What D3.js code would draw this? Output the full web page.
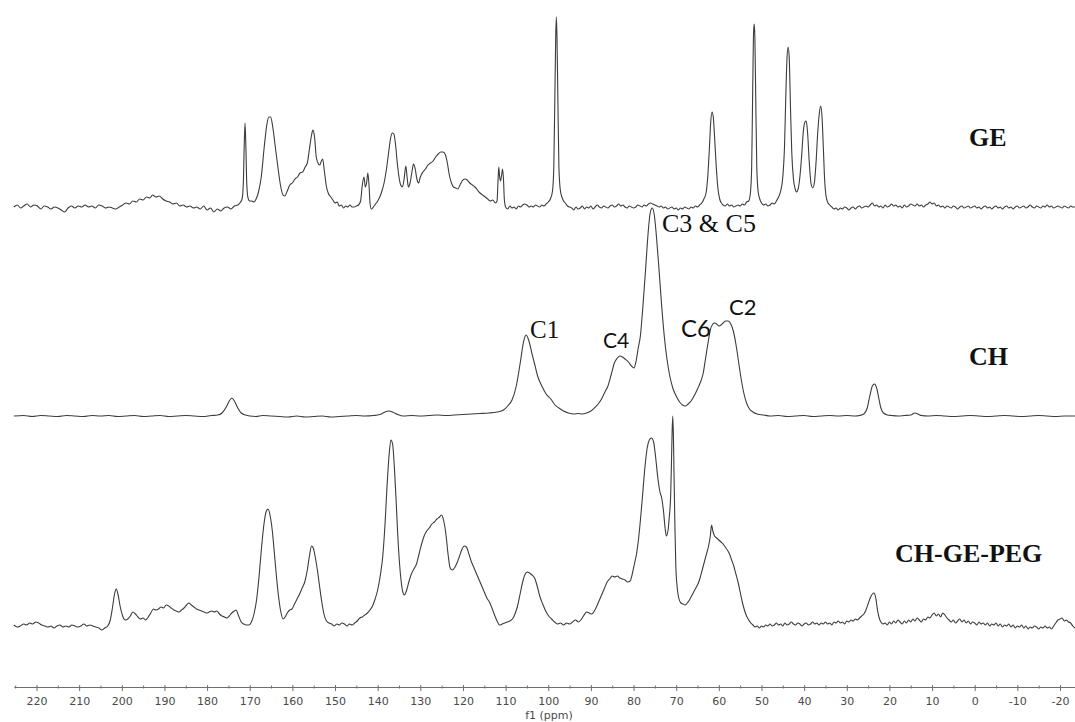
<!DOCTYPE html>
<html><head><meta charset="utf-8">
<script src="https://cdn.jsdelivr.net/npm/d3@7"></script>
<style>html,body{margin:0;padding:0;background:#fff;}svg{display:block;}</style>
</head><body>
<svg id="chart" width="1075" height="722"></svg>
<script>
// ---- data: [chemical shift (ppm), intensity (a.u.)] ----
const geSpectrum = [
[225.3,0],[224.5,2],[223.7,-1],[223,1],[222.2,3],[221.4,0],[220.6,2],[219.8,1],[219,-2],[218.2,1],[217.4,0],[216.6,-2],[215.8,0],[215,-1],[214.2,-3],[213.4,-5],[212.6,-1],[211.8,1],[211,-1],[210.2,1],[209.4,0],[208.6,2],[207.8,0],[207,1],[206.2,-1],[205.4,2],[204.6,1],[203.8,-1],[203,0],[202.2,-1],[201.4,-2],[200.6,0],[199.8,2],[199,4],[198.2,3],[197.4,6],[196.6,5],[195.8,8],[195,7],[194.2,10],[193.4,9],[192.8,12],[192,10],[191.2,11],[190.4,8],[189.6,6],[188.8,5],[188,3],[187.2,4],[186.4,1],[185.6,2],[184.8,0],[184,1],[183.2,-1],[182.4,0],[181.6,-2],[180.8,1],[180,-3],[179.2,-1],[178.4,-5],[177.6,-2],[176.8,-4],[176,-1],[175.2,0],[174.4,-2],[173.6,1],[172.8,2],[172.3,4],
[171.8,8],[171.5,24],[171.3,60],[171.1,84],[170.9,60],[170.7,24],[170.4,9],[170,6],[169.5,6],[169,5],[168.5,8],
[168,14],[167.3,30],[166.6,60],[166,82],[165.5,90],[165.1,90],[164.6,80],[164,60],[163.4,40],[162.8,22],[162.2,12],[161.8,11],[161.2,16],[160.6,22],[160,24],[159.4,28],[158.8,30],[158.2,34],[157.6,35],[157,40],[156.5,44],[156,58],[155.5,72],[155.2,77],[154.8,70],[154.4,50],[154,44],[153.6,42],[153.2,46],[152.9,48],[152.5,36],[152,20],[151.6,14],[151,10],[150.5,7],[150,4],[149.5,5],[149,1],[148.5,2],[148,-1],[147.5,1],[147,0],[146.5,2],[146,0],[145.5,0],[145,1],[144.5,2],[144,6],[143.6,22],[143.2,30],[142.9,20],[142.6,24],[142.3,34],[142,20],[141.8,4],[141.5,-2],[141,0],[140.5,3],[140,6],[139.5,10],[139,16],[138.5,24],[138,36],[137.5,52],[137,68],[136.6,74],[136.2,73],[135.8,62],[135.4,44],[135,30],[134.6,22],[134.2,20],[133.8,28],[133.4,41],[133.1,30],[132.8,20],[132.4,24],[132,34],[131.6,43],[131.2,38],[130.8,28],[130.4,24],[130,30],[129.4,35],[128.8,38],[128.2,42],[127.6,44],[127,46],[126.4,50],[125.8,53],[125.2,55],[124.7,55],[124.2,53],[123.7,45],[123.2,32],[122.7,24],[122.2,20],[121.7,19],[121.2,18],[120.7,22],[120.2,26],[119.6,28],[119,27],[118.4,24],[117.8,22],[117.2,20],[116.6,17],[116,14],[115.4,12],[114.8,10],[114.2,8],[113.6,6],[113,7],[112.4,4],[112,6],[111.8,24],[111.6,40],[111.4,30],[111.2,26],[111,30],[110.7,38],[110.5,28],[110.3,8],[110,0],
[109.5,-2],[109,1],[108.5,-1],[108,0],[107.5,-2],[107,1],[106.5,0],[106,2],[105.5,3],[105,2],[104.5,0],[104,1],[103.5,0],[103,2],[102.5,1],[102,0],[101.5,2],[101,1],[100.5,3],[100,5],[99.5,8],[99,16],[98.7,40],[98.45,110],[98.25,170],[98.1,190],[97.95,170],[97.75,110],[97.5,40],[97.2,18],[96.8,10],[96.4,6],[96,4],[95.5,1],[95,0],
[94.5,-1],[94,-3],[93.5,0],[93,-2],[92.5,-1],[92,1],[91.5,-2],[91,0],[90.5,-1],[90,1],[89.5,-2],[89,0],[88.5,2],[88,0],[87.5,-1],[87,1],[86.5,0],[86,-1],[85.5,1],[85,2],[84.5,0],[84,1],[83.5,3],[83,1],[82.5,2],[82,0],[81.5,-1],[81,1],[80.5,0],[80,-1],[79.5,0],[79,2],[78.5,1],[78,0],[77.5,2],[77,1],[76.5,3],[76,4],[75.5,3],[75,2],[74.5,1],[74,0],[73.5,1],[73,-1],[72.5,0],[72,-2],[71.5,-1],[71,0],[70.5,-2],[70,-1],[69.5,-3],[69,-1],[68.5,-2],[68,0],[67.5,-1],[67,-2],[66.5,0],[66,-1],[65.5,1],[65,0],[64.5,2],[64,4],
[63.5,8],[63,14],[62.6,30],[62.2,60],[61.9,85],[61.6,95],[61.3,90],[61,70],[60.6,40],[60.2,18],[59.8,8],[59.4,4],[59,2],[58.5,1],[58,3],[57.5,1],[57,2],[56.5,0],[56,1],[55.5,2],[55,1],[54.5,3],[54,2],[53.5,5],
[53,6],[52.6,14],[52.3,40],[52.05,120],[51.85,175],[51.7,183],[51.55,170],[51.35,110],[51.1,40],[50.8,16],[50.4,8],[50,4],[49.5,2],[49,3],[48.5,1],[48,2],[47.5,4],[47,3],[46.5,6],
[46,10],[45.5,16],[45,30],[44.6,60],[44.3,110],[44,150],[43.75,160],[43.5,150],[43.2,100],[42.9,55],[42.5,28],[42.1,18],[41.8,15],[41.4,18],[41,30],[40.6,50],[40.2,75],[39.8,85],[39.5,86],[39.2,75],[38.8,45],[38.4,24],[38,19],[37.6,24],[37.2,45],[36.8,75],[36.4,95],[36.1,101],[35.8,90],[35.5,60],[35.2,28],[34.9,12],[34.5,5],[34,2],[33.5,0],
[33,-2],[32.5,-1],[32,-3],[31.5,-1],[31,-2],[30.5,0],[30,-1],[29.5,-3],[29,-1],[28.5,0],[28,-2],[27.5,0],[27,1],[26.5,-1],[26,0],[25.5,1],[25,0],[24.5,2],[24,4],[23.5,1],[23,2],[22.5,0],[22,1],[21.5,-1],[21,2],[20.5,0],[20,1],[19.5,3],[19,1],[18.5,2],[18,0],[17.5,1],[17,-1],[16.5,2],[16,0],[15.5,1],[15,3],[14.5,2],[14,1],[13.5,3],[13,1],[12.5,2],[12,0],[11.5,2],[11,3],[10.5,5],[10,3],[9.5,4],[9,1],[8.5,2],[8,0],[7.5,1],[7,-1],[6.5,1],[6,0],[5.5,-1],[5,1],[4.5,0],[4,-2],[3.5,0],[3,1],[2.5,-1],[2,0],[1.5,1],[1,-1],[0.5,0],[0,1],[-0.5,-1],[-1,0],[-1.5,-2],[-2,0],[-2.5,1],[-3,-1],[-3.5,0],[-4,-2],[-4.5,0],[-5,1],[-5.5,-1],[-6,0],[-6.5,-2],[-7,0],[-7.5,1],[-8,-1],[-8.5,0],[-9,-2],[-9.5,0],[-10,1],[-10.5,-1],[-11,0],[-11.5,1],[-12,-1],[-12.5,0],[-13,2],[-13.5,0],[-14,-1],[-14.5,1],[-15,0],[-15.5,-1],[-16,1],[-16.5,0],[-17,2],[-17.5,0],[-18,1],[-18.5,-1],[-19,0],[-19.5,1],[-20,0],[-20.5,-1],[-21,1],[-21.5,0],[-22,-1],[-22.5,1],[-23,0],[-23.5,0]
];

const chSpectrum = [
[225.3,0],[223,0.5],[221,-0.5],[219,0.5],[217,0],[215,-0.5],[213,0.5],[211,0],[209,-0.5],[207,0.5],[205,0],[203,0.5],[201,-0.5],[199,0],[197,0.5],[195,-0.5],[193,0],[191,0.5],[189,-0.5],[187,0],[185,0.5],[183,0],[181,-0.5],[179,0.5],[177.5,1],[176.5,3],[175.5,9],[174.8,15],[174.2,18],[173.6,15],[172.8,8],[172,3],[171,1],[170,0],[168.5,-0.5],[167,0.5],[165,0],[163,-0.5],[161,-1],[159,0],[157,-1],[155,-0.5],[153,0],[151,-1],[149,-0.5],[147,0],[145,0.5],[143,0],[141,0.5],[139.5,1.5],[138.5,3.5],[137.4,5],[136.3,3.5],[135.3,1.5],[134,0],[132,0.5],[130,0],[128,0.5],[126,1],[124,0.5],[122,1],[120,1.5],[118,2],[116,2.5],[114,3],[112,4],[110.5,6],[109.5,10],[108.5,16],[107.5,30],[106.5,55],[105.8,74],[105.2,81],[104.6,76],[103.8,62],[103.2,52],[102.5,40],[101.5,30],[100.5,22],[99.4,17],[98.4,11],[97.5,8],[96.4,5],[95.3,3],[94,2],[93,2.5],[92,2],[91,3],[90,5],[89.2,8],[88.3,12],[87.5,17],[86.7,24],[86,30],[85.2,42],[84.5,53],[83.8,58],[83.2,60],[82.6,59],[82,57],[81.2,54],[80.5,50],[79.9,48],[79.4,55],[78.9,68],[78.4,80],[77.8,110],[77.2,145],[76.6,182],[76.1,203],[75.6,208],[75.1,200],[74.6,178],[74,145],[73.4,110],[72.8,80],[72.2,58],[71.5,40],[70.8,28],[70,20],[69.2,14],[68.5,11],[67.9,10],[67.2,12],[66.5,15],[65.8,20],[65,27],[64.3,34],[63.7,42],[63.1,58],[62.5,74],[62,86],[61.4,92],[61,93],[60.5,92],[60,90],[59.5,91],[59,93],[58.4,95],[57.8,95],[57.2,92],[56.6,85],[56,72],[55.4,55],[54.8,38],[54.2,24],[53.5,13],[52.8,7],[52,4],[51,2],[49.5,1],[48,0],[46,0.5],[44,-0.5],[42,0],[40,0.5],[38,-0.5],[36,0],[34,0.5],[32,0],[30,0.5],[28,0],[27,0.5],[26,2],[25.2,8],[24.6,20],[24,30],[23.5,32],[23,28],[22.5,18],[22,8],[21.4,3],[20.5,1],[19.5,0.5],[18,0],[16.5,0.5],[15,1],[14,3],[13.3,2],[12.5,0.5],[11,0],[9,0.5],[7,0],[5,-0.5],[3,0],[1,0.5],[-1,0],[-3,-0.5],[-5,0],[-7,0.5],[-9,0],[-11,-0.5],[-13,0],[-15,0.5],[-17,0],[-19,-0.5],[-21,0],[-23.5,0]
];

const pegSpectrum = [
[225.3,1],[224.5,-1],[223.8,0],[223,2],[222.3,1],[221.6,3],[220.9,2],[220.2,4],[219.5,3],[218.8,1],[218,0],[217.3,-1],[216.6,0],[215.9,-2],[215.2,0],[214.5,1],[213.8,-1],[213.1,0],[212.4,-1],[211.7,1],[211,0],[210.3,-1],[209.6,0],[208.9,2],[208.2,0],[207.5,1],[206.8,0],[206.1,-1],[205.4,-2],[204.7,-4],[204,-2],[203.3,0],[202.7,6],[202.2,18],[201.7,32],[201.3,37],[200.9,32],[200.4,20],[199.8,10],[199.2,6],[198.6,7],[198,10],[197.4,14],[196.8,12],[196.2,9],[195.6,7],[195,8],[194.4,6],[193.8,9],[193.2,13],[192.6,17],[192,16],[191.4,17],[190.8,19],[190.2,18],[189.6,21],[189,20],[188.4,18],[187.8,16],[187.2,15],[186.6,14],[186,16],[185.4,18],[184.8,21],[184.3,23],[183.7,21],[183.1,19],[182.5,17],[181.9,16],[181.3,15],[180.7,14],[180.1,13],[179.5,14],[178.9,15],[178.3,14],[177.7,15],[177.1,12],[176.5,10],[175.9,9],[175.4,8],[174.8,10],[174.2,13],[173.6,15],[173.2,16],[172.6,10],[172,4],[171.4,2],[170.8,1],[170.2,1],[169.6,4],[169,12],[168.4,26],[167.8,50],[167.2,80],[166.6,104],[166.1,115],[165.7,117],[165.2,110],[164.7,95],[164.2,72],[163.7,48],[163.2,28],[162.7,14],[162.2,7],[161.7,9],[161.2,13],[160.6,16],[160.1,17],[159.5,22],[158.9,27],[158.3,32],[157.7,38],[157.1,44],[156.5,56],[156,70],[155.5,80],[155.1,78],[154.6,68],[154.1,55],[153.6,39],[153.1,24],[152.6,12],[152,5],[151.4,3],[150.8,2],[150.2,0],[149.6,2],[149,1],[148.4,3],[147.8,2],[147.2,0],[146.6,2],[146,1],[145.4,3],[144.8,5],[144.2,8],[143.6,9],[143,11],[142.4,13],[141.8,16],[141.2,20],[140.6,27],[140,36],[139.4,50],[138.8,70],[138.3,100],[137.8,140],[137.3,172],[136.9,186],[136.5,182],[136.1,160],[135.7,128],[135.3,92],[134.9,64],[134.5,45],[134.1,34],[133.7,31],[133.2,36],[132.7,44],[132.1,52],[131.5,57],[130.9,62],[130.3,72],[129.7,82],[129.1,90],[128.5,95],[127.9,98],[127.3,102],[126.7,104],[126.1,107],[125.5,109],[125,111],[124.5,105],[124,92],[123.5,72],[123,58],[122.5,56],[122,58],[121.4,63],[120.8,70],[120.3,76],[119.7,80],[119.2,79],[118.6,72],[118,64],[117.4,58],[116.8,52],[116.2,46],[115.6,40],[115,34],[114.4,28],[113.8,24],[113.2,18],[112.6,11],[112,5],[111.4,1],[110.8,2],[110.2,3],[109.6,4],[109,5],[108.4,7],[107.8,12],[107.2,20],[106.6,32],[106,44],[105.4,52],[104.9,54],[104.4,53],[103.8,51],[103.2,48],[102.6,40],[102,30],[101.3,22],[100.6,15],[99.9,10],[99.2,7],[98.5,4],[97.8,2],[97.1,3],[96.4,1],[95.7,3],[95,2],[94.3,4],[93.6,6],[92.9,4],[92.2,7],[91.6,11],[91,14],[90.4,13],[89.8,12],[89.2,15],[88.6,20],[88,26],[87.4,32],[86.8,38],[86.2,44],[85.6,47],[85,50],[84.4,49],[83.8,50],[83.2,48],[82.6,47],[82,46],[81.4,44],[80.8,45],[80.3,52],[79.8,62],[79.3,72],[78.8,88],[78.3,110],[77.8,135],[77.3,160],[76.8,178],[76.3,186],[75.8,188],[75.3,184],[74.8,168],[74.3,148],[73.8,134],[73.4,128],[73,116],[72.6,98],[72.3,90],[71.9,96],[71.6,110],[71.3,130],[71.1,165],[70.95,195],[70.8,210],[70.65,190],[70.5,150],[70.3,100],[70.1,62],[69.8,40],[69.4,28],[68.9,23],[68.4,22],[67.9,21],[67.4,23],[66.9,26],[66.4,30],[65.9,34],[65.4,38],[64.9,42],[64.4,48],[63.9,56],[63.4,64],[62.9,72],[62.4,80],[62,90],[61.7,101],[61.4,95],[61,90],[60.5,88],[60,86],[59.5,84],[59,82],[58.5,79],[58,76],[57.5,72],[57,66],[56.5,60],[56,52],[55.5,44],[55,34],[54.5,24],[54,16],[53.5,10],[53,6],[52.5,3],[52,1],[51.5,-1],[51,0],[50.5,-2],[50,0],[49.5,-1],[49,1],[48.5,0],[48,2],[47.5,0],[47,1],[46.5,3],[46,1],[45.5,2],[45,0],[44.5,3],[44,1],[43.5,2],[43,4],[42.5,2],[42,1],[41.5,3],[41,2],[40.5,0],[40,2],[39.5,3],[39,1],[38.5,2],[38,4],[37.5,2],[37,3],[36.5,1],[36,3],[35.5,2],[35,4],[34.5,2],[34,3],[33.5,1],[33,4],[32.5,3],[32,5],[31.5,3],[31,4],[30.5,2],[30,5],[29.5,4],[29,6],[28.5,5],[28,7],[27.5,6],[27,8],[26.5,10],[26,12],[25.5,16],[25,22],[24.5,28],[24,32],[23.6,33],[23.2,28],[22.8,16],[22.4,8],[22,4],[21.5,2],[21,3],[20.5,1],[20,4],[19.5,2],[19,5],[18.5,3],[18,6],[17.5,4],[17,2],[16.5,5],[16,3],[15.5,6],[15,4],[14.5,7],[14,5],[13.5,8],[13,6],[12.5,4],[12,7],[11.5,6],[11,9],[10.5,8],[10,11],[9.5,13],[9,10],[8.5,12],[8,9],[7.5,13],[7,11],[6.5,8],[6,6],[5.5,4],[5,6],[4.5,3],[4,5],[3.5,7],[3,4],[2.5,6],[2,3],[1.5,5],[1,2],[0.5,4],[0,3],[-0.5,1],[-1,4],[-1.5,2],[-2,3],[-2.5,1],[-3,3],[-3.5,0],[-4,2],[-4.5,1],[-5,3],[-5.5,0],[-6,2],[-6.5,-1],[-7,1],[-7.5,0],[-8,2],[-8.5,-1],[-9,1],[-9.5,-2],[-10,0],[-10.5,-1],[-11,1],[-11.5,-2],[-12,0],[-12.5,-3],[-13,-1],[-13.5,-2],[-14,0],[-14.5,-1],[-15,-3],[-15.5,-1],[-16,-2],[-16.5,0],[-17,-2],[-17.5,-1],[-18,-3],[-18.5,0],[-19,3],[-19.5,6],[-20,7],[-20.5,8],[-21,5],[-21.5,6],[-22,4],[-22.5,3],[-23,0],[-23.5,-2]
];

const seriesNames = ["GE", "CH", "CH-GE-PEG"];
const majorTicks = [220,210,200,190,180,170,160,150,140,130,120,110,100,90,80,70,60,50,40,30,20,10,0,-10,-20];
const minorTicks = [225,215,205,195,185,175,165,155,145,135,125,115,105,95,85,75,65,55,45,35,25,15,5,-5,-15];
const axisTitle = "f1 (ppm)";
const peakLabels = ["C1", "C4", "C3 & C5", "C6", "C2"];

// ---- layout ----
const svg = d3.select("#chart");
const x = d3.scaleLinear().domain([220, -20]).range([36.5, 1060]);
const xFull = x.copy().domain([x.invert(14), x.invert(1075)]).range([14, 1075]);

const baselines = [207, 416, 626];
const spectra = [geSpectrum, chSpectrum, pegSpectrum];
const yScales = baselines.map(b => d3.scaleLinear().domain([0, 100]).range([b, b - 100]));

spectra.forEach((data, i) => {
  const y = yScales[i];
  const line = d3.line().x(d => x(d[0])).y(d => y(d[1])).curve(d3.curveMonotoneX);
  svg.append("path").datum(data)
    .attr("d", line)
    .attr("fill", "none")
    .attr("stroke", "#3c3c3c")
    .attr("stroke-width", 1.1)
    .attr("stroke-linejoin", "round");
});

// series labels
const nameStyle = [
  {x: 969, y: 146}, {x: 969, y: 365}, {x: 895, y: 562}
];
seriesNames.forEach((n, i) => {
  svg.append("text").text(n)
    .attr("x", nameStyle[i].x).attr("y", nameStyle[i].y)
    .attr("font-family", "Liberation Serif, Times New Roman, serif")
    .attr("font-weight", "bold").attr("font-size", 26).attr("fill", "#111");
});

// peak labels
const peakPos = [
  {x: 530, y: 338, f: "Liberation Serif, serif", s: 25},
  {x: 603, y: 348, f: "Lato, sans-serif", s: 21},
  {x: 662, y: 232, f: "Liberation Serif, serif", s: 26},
  {x: 681, y: 337, f: "Lato, sans-serif", s: 24},
  {x: 729, y: 315, f: "Lato, sans-serif", s: 22}
];
peakLabels.forEach((t, i) => {
  const p = peakPos[i];
  svg.append("text").text(t).attr("x", p.x).attr("y", p.y)
    .attr("font-family", p.f).attr("font-size", p.s).attr("fill", "#111");
});

// axis
const axisY = 687;
const gMinor = svg.append("g").attr("transform", `translate(0,${axisY})`)
  .call(d3.axisBottom(xFull).tickValues(minorTicks).tickSize(2).tickSizeOuter(0).tickFormat(""));
const gMajor = svg.append("g").attr("transform", `translate(0,${axisY})`)
  .call(d3.axisBottom(xFull).tickValues(majorTicks).tickSize(4).tickSizeOuter(0).tickPadding(6).tickFormat(d => String(d)));
[gMinor, gMajor].forEach(g => {
  g.selectAll("path,line").attr("stroke", "#6e6e6e");
  g.selectAll("text").attr("font-family", "DejaVu Sans, Verdana, sans-serif").attr("font-size", 11).attr("fill", "#4a4a4a");
});
gMinor.selectAll(".tick line").attr("y1", -1.5).attr("y2", 1.5);
gMajor.selectAll(".tick line").attr("y1", -2);

svg.append("text").text(axisTitle)
  .attr("x", 549).attr("y", 719).attr("text-anchor", "middle")
  .attr("font-family", "DejaVu Sans, Verdana, sans-serif").attr("font-size", 11).attr("fill", "#4a4a4a");
</script>
</body></html>
